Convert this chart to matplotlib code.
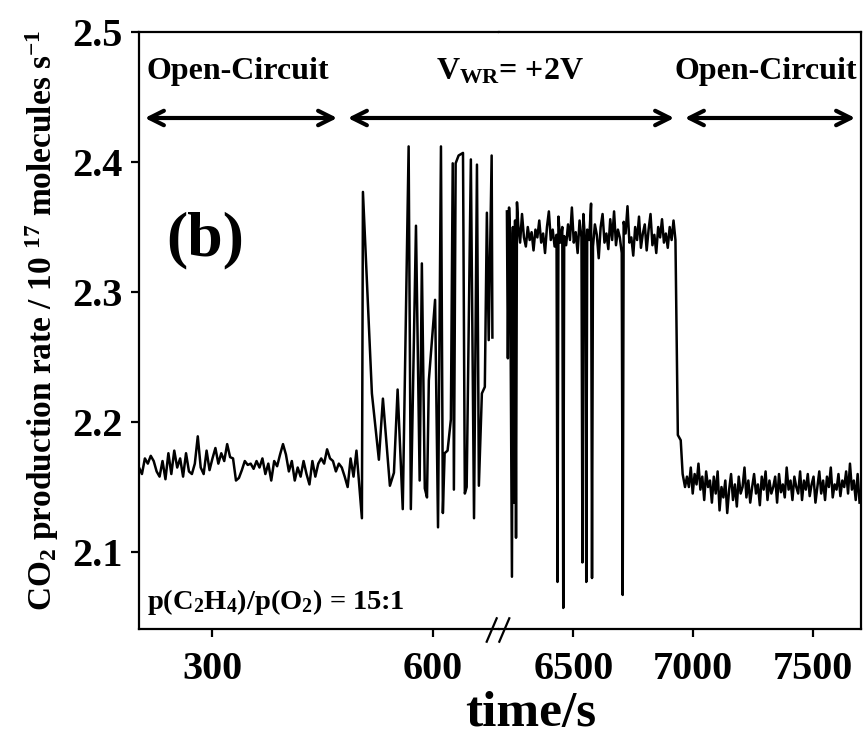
import numpy as np
import matplotlib
matplotlib.use("Agg")
import matplotlib.pyplot as plt
from matplotlib.lines import Line2D

plt.rcParams['font.family'] = ['Liberation Serif', 'DejaVu Serif']
plt.rcParams['font.weight'] = 'bold'
plt.rcParams['mathtext.fontset'] = 'custom'
plt.rcParams['mathtext.rm'] = 'Liberation Serif:bold'
plt.rcParams['mathtext.it'] = 'Liberation Serif:bold'
plt.rcParams['mathtext.bf'] = 'Liberation Serif:bold'

# ---------------- data ----------------
# left open-circuit (t = 200 + 4*i)
oc1_start = 200
oc1_step = 4
oc1_values = [2.165, 2.160, 2.172, 2.168, 2.174, 2.170, 2.162, 2.158, 2.170, 2.156,
              2.176, 2.160, 2.178, 2.165, 2.172, 2.158, 2.176, 2.162, 2.160, 2.168,
              2.189, 2.165, 2.160, 2.178, 2.163, 2.172, 2.180, 2.168, 2.176, 2.170,
              2.183, 2.173, 2.172, 2.155, 2.157, 2.163, 2.170, 2.167, 2.168, 2.164,
              2.170, 2.165, 2.172, 2.160, 2.168, 2.155, 2.170, 2.166, 2.175, 2.183,
              2.175, 2.162, 2.170, 2.155, 2.165, 2.158, 2.170, 2.160, 2.152, 2.170,
              2.158, 2.168, 2.172, 2.168, 2.179, 2.172, 2.170, 2.162, 2.168, 2.165,
              2.158, 2.150, 2.172, 2.158, 2.178]

# transient after switching on +2V (left part)
tr_t = [503.4, 504.8, 517, 526.5, 532, 541.5, 547, 552, 559, 567, 570, 577, 582, 585,
        589, 592, 594.5, 603, 607, 611, 613.6, 616, 620, 624.5, 627, 628.6, 631, 635,
        641, 643.5, 646, 651.7, 656, 660, 662.6, 666.7, 670.7, 673.5, 676, 680, 681]
tr_v = [2.126, 2.377, 2.222, 2.171, 2.218, 2.151, 2.161, 2.225, 2.133, 2.412, 2.133,
        2.351, 2.155, 2.322, 2.149, 2.142, 2.232, 2.294, 2.119, 2.412, 2.130, 2.176,
        2.178, 2.202, 2.399, 2.148, 2.399, 2.405, 2.407, 2.145, 2.150, 2.402, 2.126,
        2.398, 2.151, 2.222, 2.227, 2.361, 2.263, 2.405, 2.265]

# right part: beginning of plateau
st_t = [6223, 6227, 6232, 6236, 6244, 6248, 6253, 6257, 6261, 6265]
st_v = [2.362, 2.249, 2.365, 2.345, 2.081, 2.350, 2.138, 2.355, 2.111, 2.369]

# plateau under +2V (t = 6270 + 8*i)
pl_start = 6270
pl_step = 8
pl_values = [2.352, 2.338, 2.360, 2.342, 2.335, 2.350, 2.340, 2.346, 2.332, 2.348,
             2.342, 2.355, 2.338, 2.345, 2.330, 2.350, 2.362, 2.340, 2.348, 2.335,
             2.344, 2.358, 2.338, 2.350, 2.343, 2.336, 2.352, 2.340, 2.365, 2.338,
             2.346, 2.330, 2.355, 2.342, 2.360, 2.336, 2.348, 2.340, 2.368, 2.335,
             2.352, 2.344, 2.326, 2.350, 2.360, 2.338, 2.345, 2.333, 2.356, 2.340,
             2.362, 2.336, 2.348, 2.342, 2.330, 2.354, 2.345, 2.366, 2.338, 2.342,
             2.328, 2.350, 2.340, 2.358, 2.334, 2.345, 2.352, 2.332, 2.348, 2.360,
             2.336, 2.344, 2.330, 2.350, 2.342, 2.356, 2.338, 2.345, 2.334, 2.350,
             2.340, 2.355]

# sharp drops during the plateau
dip_t = [6434, 6458, 6538, 6554, 6578, 6706]
dip_v = [2.077, 2.057, 2.092, 2.077, 2.080, 2.067]

# falling edge when switching back to open circuit
ed_t = [6926, 6936, 6948, 6956, 6966]
ed_v = [2.340, 2.190, 2.186, 2.160, 2.150]

# right open-circuit (t = 6974 + 8*i)
oc2_start = 6974
oc2_step = 8
oc2_values = [2.158, 2.150, 2.165, 2.145, 2.160, 2.152, 2.168, 2.148, 2.158, 2.140,
              2.162, 2.150, 2.155, 2.138, 2.158, 2.145, 2.162, 2.132, 2.150, 2.142,
              2.155, 2.130, 2.148, 2.160, 2.140, 2.152, 2.135, 2.158, 2.145, 2.150,
              2.165, 2.142, 2.155, 2.138, 2.150, 2.160, 2.145, 2.152, 2.136, 2.158,
              2.148, 2.162, 2.140, 2.155, 2.145, 2.150, 2.158, 2.138, 2.160, 2.146,
              2.152, 2.142, 2.165, 2.148, 2.155, 2.140, 2.158, 2.150, 2.145, 2.162,
              2.140, 2.155, 2.148, 2.160, 2.143, 2.152, 2.158, 2.138, 2.150, 2.162,
              2.145, 2.155, 2.140, 2.158, 2.150, 2.165, 2.142, 2.152, 2.148, 2.160,
              2.143, 2.155, 2.150, 2.162, 2.145, 2.168, 2.148, 2.155, 2.140, 2.160,
              2.138]

left_xticks = [300, 600]
right_xticks = [6500, 7000, 7500]
yticks = [2.1, 2.2, 2.3, 2.4, 2.5]

# ---------------- assemble ----------------
oc1_t = oc1_start + oc1_step * np.arange(len(oc1_values))
tL = np.concatenate([oc1_t, tr_t])
vL = np.concatenate([oc1_values, tr_v])

pl_t = pl_start + pl_step * np.arange(len(pl_values))
oc2_t = oc2_start + oc2_step * np.arange(len(oc2_values))
tR = np.concatenate([st_t, pl_t, dip_t, ed_t, oc2_t])
vR = np.concatenate([st_v, pl_values, dip_v, ed_v, oc2_values])
order = np.argsort(tR, kind='stable')
tR, vR = tR[order], vR[order]

# ---------------- figure ----------------
W, H = 863, 738
fig = plt.figure(figsize=(W / 100, H / 100), dpi=100)

x0, xb, x1 = 139 / W, 499 / W, 861 / W
y0, y1 = 1 - 629 / H, 1 - 32 / H
axL = fig.add_axes([x0, y0, xb - x0, y1 - y0])
axR = fig.add_axes([xb, y0, x1 - xb, y1 - y0])

lw = 1.8
axL.plot(tL, vL, color='black', lw=lw)
axR.plot(tR, vR, color='black', lw=lw)

ylim = (2.0408, 2.5)
axL.set_xlim(200, 690)
axR.set_xlim(6190, 7700)
for ax in (axL, axR):
    ax.set_ylim(*ylim)
    for s in ax.spines.values():
        s.set_linewidth(1.6)
    ax.tick_params(direction='out', length=6, width=1.6, labelsize=29, pad=6)

axL.spines['right'].set_visible(False)
axR.spines['left'].set_visible(False)
axL.set_xticks(left_xticks)
axR.set_xticks(right_xticks)
axL.set_yticks(yticks)
axL.set_yticklabels([f"{v:.1f}" for v in yticks])
axR.set_yticks([])
axL.tick_params(axis='x', pad=10)
axR.tick_params(axis='x', pad=10)

# break marks
for dx in (0, 12.6):
    fig.add_artist(Line2D([(486.7 + dx) / W, (496.7 + dx) / W],
                          [1 - 641.7 / H, 1 - 618.3 / H],
                          color='black', lw=1.6))

# axis labels
fig.text(531 / W, 1 - 726 / H, 'time/s', ha='center', va='baseline', fontsize=37)
fig.text(42 / W, 1 - 320 / H,
         r'CO$_2$ production rate / 10 $^{17}$ molecules s$^{-1}$',
         rotation=90, ha='center', va='center', fontsize=24)

# annotations
fig.text(205 / W, 1 - 240 / H, '(b)', ha='center', va='center', fontsize=46)
fig.text(147 / W, 1 - 602 / H, r'p(C$_2$H$_4$)/p(O$_2$) = 15:1',
         ha='left', va='center', fontsize=20.5)

ty = 1 - 72 / H
fig.text(238 / W, ty, 'Open-Circuit', ha='center', va='center', fontsize=23)
fig.text(510 / W, ty, r'V$_{\mathrm{WR}}$= +2V', ha='center', va='center', fontsize=23)
fig.text(766 / W, ty, 'Open-Circuit', ha='center', va='center', fontsize=23)

ay = 1 - 118 / H
for xa, xb2 in [(142, 340), (345, 677), (682, 858)]:
    fig.add_artist(matplotlib.patches.FancyArrowPatch(
        (xa / W, ay), (xb2 / W, ay), transform=fig.transFigure,
        arrowstyle='<->', mutation_scale=26, lw=3.0, color='black'))

fig.savefig('out.png', dpi=100)
